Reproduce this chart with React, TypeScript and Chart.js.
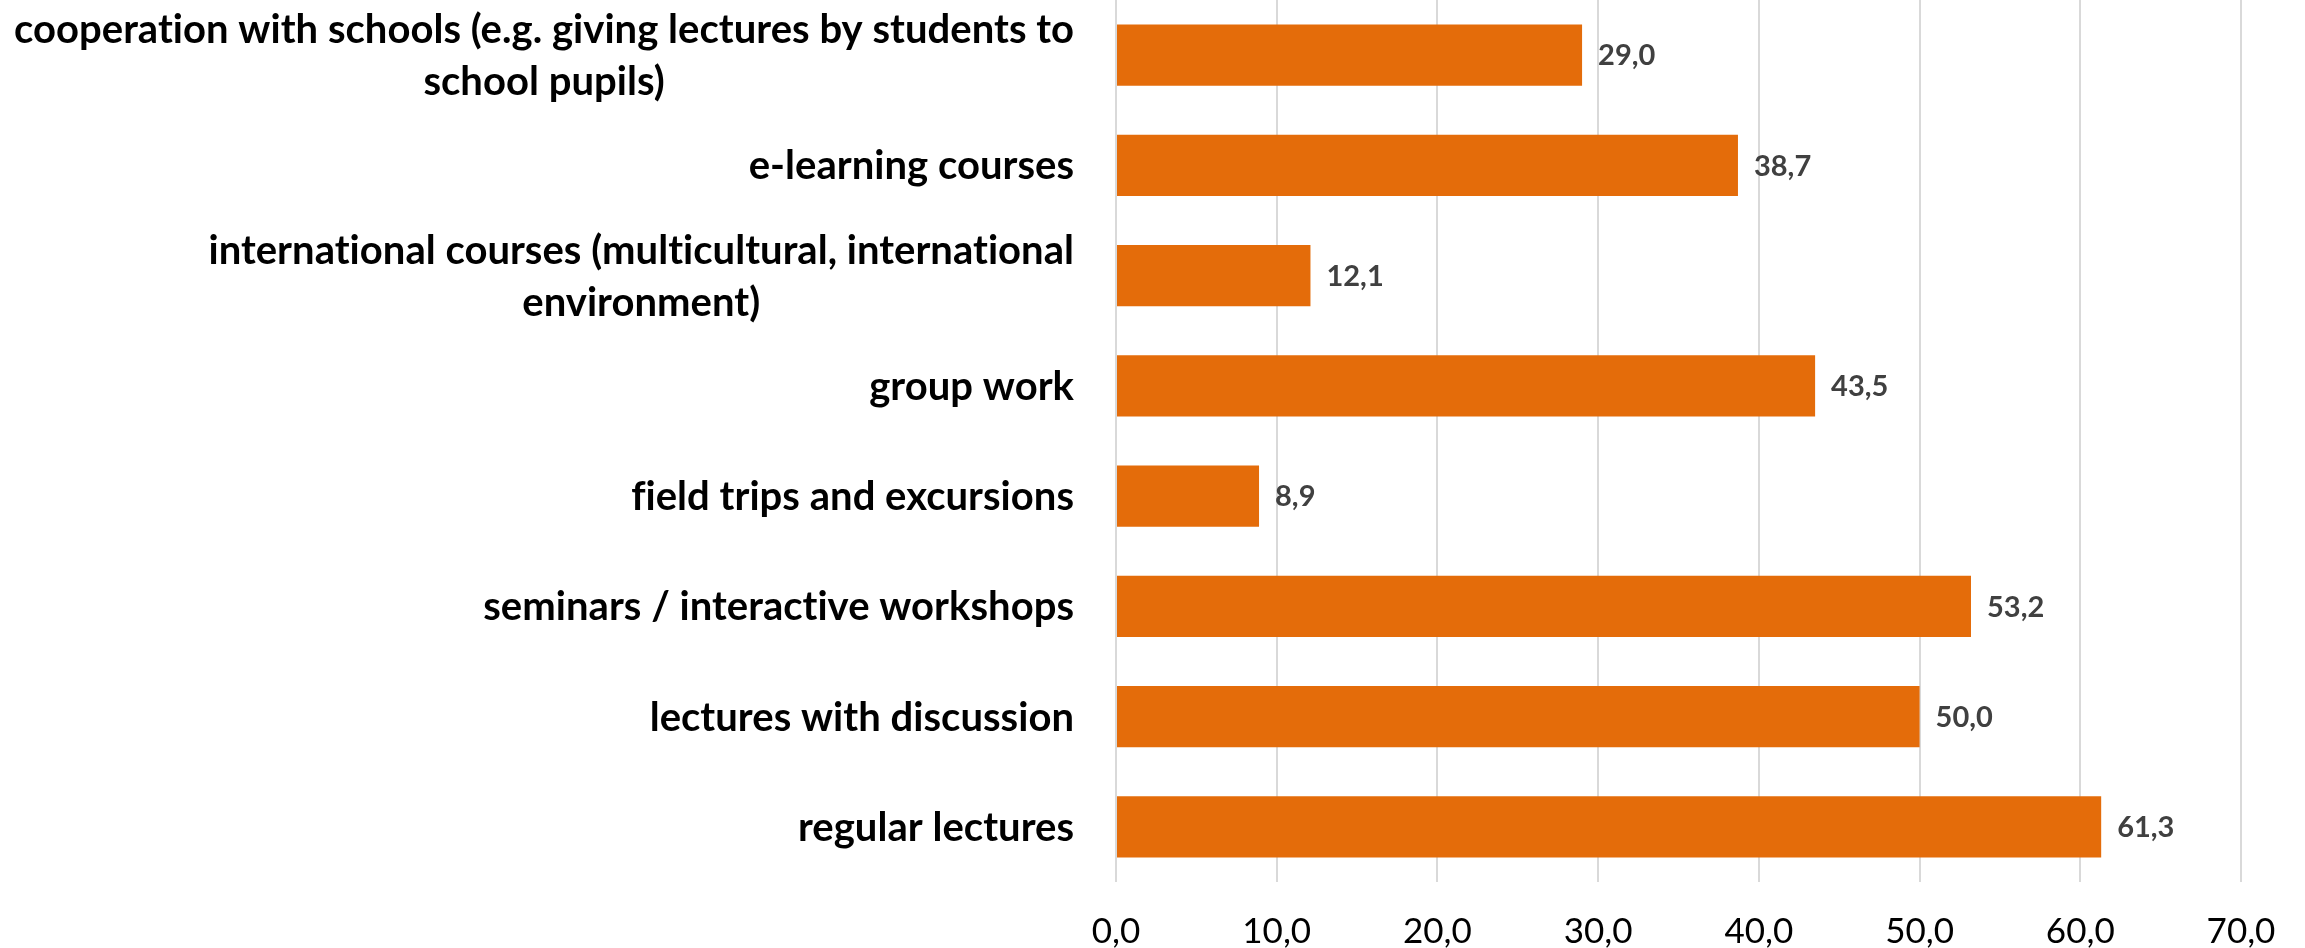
import React, { useEffect, useRef } from "react";
import { Chart, registerables } from "chart.js";

Chart.register(...registerables);

const categories: string[][] = [
  ["cooperation with schools (e.g. giving lectures by students to", "school pupils)"],
  ["e-learning courses"],
  ["international courses (multicultural, international", "environment)"],
  ["group work"],
  ["field trips and excursions"],
  ["seminars / interactive workshops"],
  ["lectures with discussion"],
  ["regular lectures"],
];
const values: number[] = [29.0, 38.7, 12.1, 43.5, 8.9, 53.2, 50.0, 61.3];
const xMin = 0;
const xMax = 70;
const xStep = 10;

const BAR_COLOR = "#E46C0A";
const FONT = "Lato, 'Open Sans', sans-serif";
const fmt = (v: number) => v.toFixed(1).replace(".", ",");

const categoryLabelPlugin = {
  id: "categoryLabels",
  afterDraw(chart: any) {
    const ctx = chart.ctx as any;
    const yScale = chart.scales.y;
    const lineH = 52;
    ctx.save();
    ctx.font = `bold 40px ${FONT}`;
    try { ctx.letterSpacing = "0.03px"; } catch (e) { /* ignore */ }
    ctx.fillStyle = "#000000";
    ctx.textBaseline = "middle";
    ctx.textAlign = "center";
    const rightX = chart.chartArea.left - 42;
    categories.forEach((lines, i) => {
      const cy = yScale.getPixelForTick(i);
      const maxW = Math.max(...lines.map((l) => ctx.measureText(l).width));
      const cx = rightX - maxW / 2;
      lines.forEach((l, j) => {
        ctx.fillText(l, cx, cy + 1 + (j - (lines.length - 1) / 2) * lineH);
      });
    });
    ctx.restore();
  },
};

const valueLabelPlugin = {
  id: "valueLabels",
  afterDatasetsDraw(chart: any) {
    const ctx = chart.ctx as CanvasRenderingContext2D;
    const meta = chart.getDatasetMeta(0);
    ctx.save();
    ctx.font = `bold 29px ${FONT}`;
    ctx.fillStyle = "#404040";
    ctx.textBaseline = "middle";
    ctx.textAlign = "left";
    meta.data.forEach((el: any, i: number) => {
      ctx.fillText(fmt(values[i]), el.x + 16, el.y + 1);
    });
    ctx.restore();
  },
};

export default function App() {
  const canvasRef = useRef<HTMLCanvasElement | null>(null);

  useEffect(() => {
    document.body.style.margin = "0";
    const canvas = canvasRef.current;
    if (!canvas) return;
    const chart = new Chart(canvas, {
      type: "bar",
      data: {
        labels: categories.map((c) => c.join(" ")),
        datasets: [
          {
            data: values,
            backgroundColor: BAR_COLOR,
            borderWidth: 0,
            categoryPercentage: 1,
            barPercentage: 0.557,
          },
        ],
      },
      options: {
        indexAxis: "y",
        animation: false,
        responsive: false,
        maintainAspectRatio: false,
        layout: { padding: { left: 0, right: 64, top: 0, bottom: 0 } },
        plugins: {
          legend: { display: false },
          tooltip: { enabled: false },
          title: { display: false },
        },
        scales: {
          x: {
            type: "linear",
            min: xMin,
            max: xMax,
            grid: { color: "#d9d9d9", lineWidth: 2, drawTicks: false },
            border: { display: false },
            ticks: {
              stepSize: xStep,
              padding: 29,
              color: "#000000",
              font: { family: FONT, size: 35 },
              callback: (v: any) => fmt(Number(v)),
            },
            afterFit: (scale: any) => {
              scale.height = 66;
            },
          },
          y: {
            type: "category",
            grid: { display: false, drawTicks: false },
            border: { display: false },
            ticks: { display: false },
            afterFit: (scale: any) => {
              scale.width = 1116;
            },
          },
        },
      },
      plugins: [categoryLabelPlugin, valueLabelPlugin],
    });
    return () => chart.destroy();
  }, []);

  return (
    <div style={{ width: 2305, height: 948, background: "#ffffff" }}>
      <canvas ref={canvasRef} width={2305} height={948} style={{ display: "block" }} />
    </div>
  );
}
